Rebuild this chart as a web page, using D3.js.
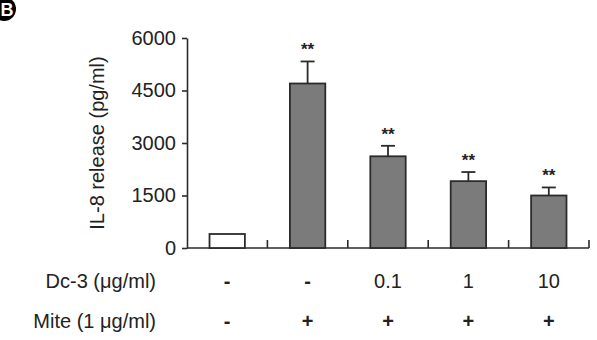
<!DOCTYPE html>
<html>
<head>
<meta charset="utf-8">
<script src="https://cdn.jsdelivr.net/npm/d3@7"></script>
<style>
  body { margin: 0; background: #fff; }
  text { font-family: "Liberation Sans", Arial, sans-serif; fill: #222; }
</style>
</head>
<body>
<script>
// chart values
var groups = ["g1", "g2", "g3", "g4", "g5"];
var il8 = [400, 4700, 2620, 1910, 1500];
var il8Err = [0, 630, 300, 260, 230];
var sig = ["", "**", "**", "**", "**"];
var dcLabels = ["-", "-", "0.1", "1", "10"];
var miteLabels = ["-", "+", "+", "+", "+"];
var yTicks = [0, 1500, 3000, 4500, 6000];

var w = 597, h = 340;
var margin = {top: 38, left: 187, right: 8, bottom: 92};

var barData = groups.map(function(g, i) {
  return {i: i, g: g, val: il8[i], err: il8Err[i], sig: sig[i]};
});

var svg = d3.select("body")
            .append("svg")
            .attr("width", w)
            .attr("height", h);

var xScale = d3.scaleBand()
               .domain(groups)
               .range([margin.left, w - margin.right])
               .padding(0);

var yScale = d3.scaleLinear()
               .domain([0, 6000])
               .range([h - margin.bottom, margin.top]);

var barW = xScale.bandwidth() * 0.44;
var ink = "#2b2b2b";

// y axis
var yAxis = d3.axisLeft(yScale)
              .tickValues(yTicks)
              .tickFormat(d3.format("d"))
              .tickSizeInner(5)
              .tickSizeOuter(0)
              .tickPadding(6);

var gy = svg.append("g")
   .attr("transform", "translate(" + margin.left + ",0)")
   .call(yAxis);
gy.select(".domain").attr("stroke", ink).attr("stroke-width", 1.6);
gy.selectAll(".tick line").attr("stroke", ink).attr("stroke-width", 1.6);
gy.selectAll(".tick text")
  .style("font-size", "20px")
  .style("font-family", "Liberation Sans, Arial, sans-serif")
  .attr("fill", "#222");

// x axis line with upward ticks at the band edges
var y0 = yScale(0);
svg.append("line")
   .attr("x1", margin.left).attr("x2", w - margin.right)
   .attr("y1", y0).attr("y2", y0)
   .attr("stroke", ink).attr("stroke-width", 1.6);

var edges = groups.slice(1).map(function(g) { return xScale(g); });
edges.push(xScale.range()[1]);
svg.selectAll(".xtick")
   .data(edges)
   .enter()
   .append("line")
   .attr("class", "xtick")
   .attr("x1", function(d) { return d; })
   .attr("x2", function(d) { return d; })
   .attr("y1", y0)
   .attr("y2", y0 - 8)
   .attr("stroke", ink)
   .attr("stroke-width", 1.6);

function cx(i) { return xScale(groups[i]) + xScale.bandwidth() / 2; }

// bars
svg.selectAll(".bar")
   .data(barData)
   .enter()
   .append("rect")
   .attr("class", "bar")
   .attr("x", function(d) { return cx(d.i) - barW / 2; })
   .attr("y", function(d) { return yScale(d.val); })
   .attr("width", barW)
   .attr("height", function(d) { return y0 - yScale(d.val); })
   .attr("fill", function(d) { return d.i == 0 ? "#fff" : "#7b7b7b"; })
   .attr("stroke", ink)
   .attr("stroke-width", 1.8);

// error bars
var errs = svg.selectAll(".err")
   .data(barData.filter(function(d) { return d.err > 0; }))
   .enter()
   .append("g")
   .attr("class", "err");

errs.append("line")
    .attr("x1", function(d) { return cx(d.i); })
    .attr("x2", function(d) { return cx(d.i); })
    .attr("y1", function(d) { return yScale(d.val); })
    .attr("y2", function(d) { return yScale(d.val + d.err); })
    .attr("stroke", ink).attr("stroke-width", 1.8);

errs.append("line")
    .attr("x1", function(d) { return cx(d.i) - 7; })
    .attr("x2", function(d) { return cx(d.i) + 7; })
    .attr("y1", function(d) { return yScale(d.val + d.err); })
    .attr("y2", function(d) { return yScale(d.val + d.err); })
    .attr("stroke", ink).attr("stroke-width", 1.8);

// significance stars
svg.selectAll(".sig")
   .data(barData)
   .enter()
   .append("text")
   .attr("class", "sig")
   .attr("x", function(d) { return cx(d.i); })
   .attr("y", function(d) { return yScale(d.val + d.err) - 6; })
   .attr("text-anchor", "middle")
   .style("font-size", "17px")
   .style("font-weight", "bold")
   .text(function(d) { return d.sig; });

// y axis title
svg.append("text")
   .attr("transform", "translate(104," + ((margin.top + y0) / 2) + ") rotate(-90)")
   .attr("text-anchor", "middle")
   .style("font-size", "20px")
   .text("IL-8 release (pg/ml)");

// treatment rows under the chart
var rows = [
  {name: "Dc-3 (\u03bcg/ml)", labels: dcLabels, y: 288},
  {name: "Mite (1 \u03bcg/ml)", labels: miteLabels, y: 328}
];

rows.forEach(function(r) {
  svg.append("text")
     .attr("x", 156)
     .attr("y", r.y)
     .attr("text-anchor", "end")
     .style("font-size", "20px")
     .text(r.name);

  svg.selectAll(null)
     .data(r.labels)
     .enter()
     .append("text")
     .attr("x", function(d, i) { return cx(i); })
     .attr("y", r.y)
     .attr("text-anchor", "middle")
     .style("font-size", "20px")
     .style("font-weight", function(d) { return d == "-" || d == "+" ? "bold" : "normal"; })
     .text(function(d) { return d; });
});

// panel badge
svg.append("circle")
   .attr("cx", 4).attr("cy", 9).attr("r", 12)
   .attr("fill", "#000");
svg.append("text")
   .attr("x", 7).attr("y", 16)
   .attr("text-anchor", "middle")
   .style("font-size", "18px")
   .style("font-weight", "bold")
   .style("fill", "#fff")
   .text("B");
</script>
</body>
</html>
